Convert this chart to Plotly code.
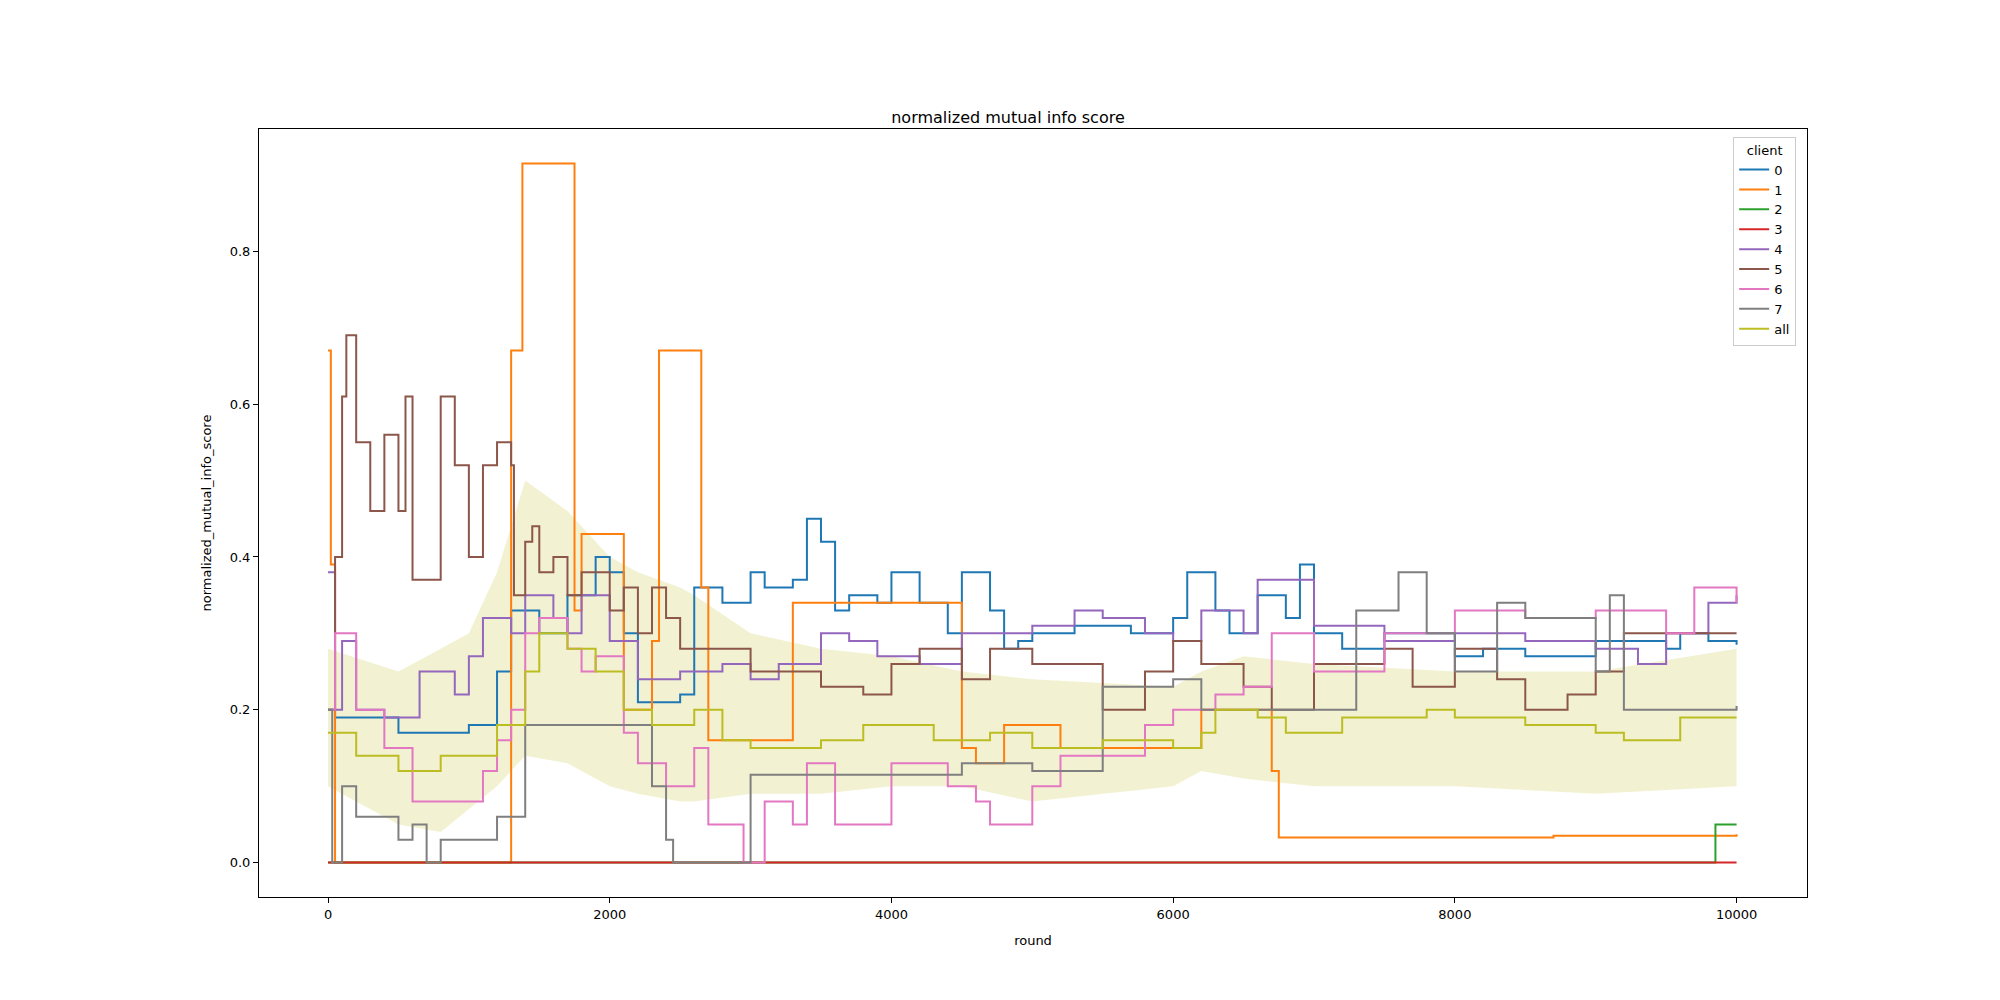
import plotly.graph_objects as go

# (round, value) breakpoints, drawn as steps
c0_x = [0, 50, 500, 1000, 1200, 1300, 1500, 1700, 1900, 2000, 2100, 2200, 2500, 2600, 2800, 3000, 3100, 3300, 3400, 3500, 3600, 3700, 3900, 4000, 4200, 4400, 4500, 4700, 4800, 4900, 5000, 5300, 5700, 6000, 6100, 6300, 6400, 6600, 6800, 6900, 7000, 7200, 7500, 8000, 8200, 8500, 9000, 9500, 9600, 9800, 10000]
c0_y = [0.2, 0.19, 0.17, 0.18, 0.25, 0.33, 0.3, 0.35, 0.4, 0.38, 0.3, 0.21, 0.22, 0.36, 0.34, 0.38, 0.36, 0.37, 0.45, 0.42, 0.33, 0.35, 0.34, 0.38, 0.34, 0.3, 0.38, 0.33, 0.28, 0.29, 0.3, 0.31, 0.3, 0.32, 0.38, 0.33, 0.3, 0.35, 0.32, 0.39, 0.3, 0.28, 0.3, 0.27, 0.28, 0.27, 0.29, 0.28, 0.3, 0.29, 0.285]

c1_x = [0, 20, 50, 1300, 1380, 1700, 1750, 1800, 2100, 2300, 2350, 2650, 2700, 3000, 3300, 3700, 4300, 4400, 4500, 4600, 4800, 5200, 6000, 6200, 6700, 6750, 8700, 10000]
c1_y = [0.67, 0.39, 0.0, 0.67, 0.915, 0.915, 0.33, 0.43, 0.2, 0.29, 0.67, 0.36, 0.16, 0.16, 0.34, 0.34, 0.34, 0.34, 0.15, 0.13, 0.18, 0.15, 0.15, 0.2, 0.12, 0.033, 0.035, 0.037]

c2_x = [0, 9850, 10000]
c2_y = [0.0, 0.05, 0.05]

c3_x = [0, 10000]
c3_y = [0.0, 0.0]

c4_x = [0, 50, 100, 200, 400, 650, 900, 1000, 1100, 1300, 1400, 1600, 1700, 1800, 2000, 2200, 2500, 2800, 3000, 3200, 3500, 3700, 3900, 4200, 4500, 5000, 5300, 5500, 5800, 6000, 6200, 6500, 6600, 7000, 7500, 8000, 8500, 9000, 9300, 9500, 9800, 10000]
c4_y = [0.38, 0.2, 0.29, 0.2, 0.19, 0.25, 0.22, 0.27, 0.32, 0.3, 0.35, 0.32, 0.3, 0.35, 0.29, 0.24, 0.25, 0.26, 0.24, 0.26, 0.3, 0.29, 0.27, 0.26, 0.3, 0.31, 0.33, 0.32, 0.3, 0.29, 0.33, 0.3, 0.37, 0.31, 0.29, 0.3, 0.29, 0.28, 0.26, 0.3, 0.34, 0.35]

c5_x = [0, 50, 100, 130, 200, 300, 400, 500, 550, 600, 800, 900, 1000, 1100, 1200, 1300, 1320, 1400, 1450, 1500, 1600, 1700, 1800, 2000, 2100, 2200, 2300, 2400, 2500, 3000, 3500, 3800, 4000, 4200, 4500, 4700, 5000, 5500, 5800, 6000, 6200, 6500, 6700, 7000, 7500, 7700, 8000, 8300, 8500, 8800, 9000, 9200, 10000]
c5_y = [0.2, 0.4, 0.61, 0.69, 0.55, 0.46, 0.56, 0.46, 0.61, 0.37, 0.61, 0.52, 0.4, 0.52, 0.55, 0.52, 0.35, 0.42, 0.44, 0.38, 0.4, 0.35, 0.38, 0.33, 0.36, 0.3, 0.36, 0.32, 0.28, 0.25, 0.23, 0.22, 0.26, 0.28, 0.24, 0.28, 0.26, 0.2, 0.25, 0.29, 0.26, 0.23, 0.2, 0.26, 0.28, 0.23, 0.28, 0.24, 0.2, 0.22, 0.25, 0.3, 0.3]

c6_x = [0, 50, 200, 400, 600, 900, 1100, 1200, 1300, 1400, 1500, 1700, 1800, 1900, 2100, 2200, 2400, 2600, 2700, 2950, 3100, 3300, 3400, 3600, 4000, 4400, 4600, 4700, 5000, 5200, 5800, 6000, 6300, 6500, 6700, 7000, 7500, 8000, 8500, 9000, 9500, 9700, 10000]
c6_y = [0.2, 0.3, 0.2, 0.15, 0.08, 0.08, 0.12, 0.16, 0.2, 0.3, 0.32, 0.28, 0.25, 0.27, 0.17, 0.13, 0.1, 0.15, 0.05, 0.0, 0.08, 0.05, 0.13, 0.05, 0.13, 0.1, 0.08, 0.05, 0.1, 0.14, 0.18, 0.2, 0.22, 0.23, 0.3, 0.25, 0.3, 0.33, 0.32, 0.33, 0.3, 0.36, 0.34]

c7_x = [0, 30, 100, 200, 500, 600, 700, 800, 1100, 1200, 1400, 2100, 2300, 2400, 2450, 3000, 4000, 4500, 5000, 5500, 6000, 6200, 7000, 7300, 7600, 7800, 8000, 8300, 8500, 9000, 9100, 9200, 10000]
c7_y = [0.2, 0.0, 0.1, 0.06, 0.03, 0.05, 0.0, 0.03, 0.03, 0.06, 0.18, 0.18, 0.1, 0.03, 0.0, 0.115, 0.115, 0.13, 0.12, 0.23, 0.24, 0.2, 0.2, 0.33, 0.38, 0.3, 0.25, 0.34, 0.32, 0.25, 0.35, 0.2, 0.205]

all_x = [0, 200, 500, 800, 1200, 1400, 1500, 1700, 1900, 2100, 2300, 2600, 2800, 3000, 3500, 3800, 4300, 4700, 5000, 5500, 6000, 6200, 6300, 6600, 6800, 7200, 7800, 8000, 8500, 9000, 9200, 9600, 10000]
all_y = [0.17, 0.14, 0.12, 0.14, 0.18, 0.25, 0.3, 0.28, 0.25, 0.2, 0.18, 0.2, 0.16, 0.15, 0.16, 0.18, 0.16, 0.17, 0.15, 0.16, 0.15, 0.17, 0.2, 0.19, 0.17, 0.19, 0.2, 0.19, 0.18, 0.17, 0.16, 0.19, 0.19]

band_x = [0, 500, 800, 1000, 1200, 1400, 1700, 1800, 2000, 2200, 2500, 2600, 3000, 3500, 4000, 4500, 5000, 6000, 6200, 6500, 7000, 8000, 9000, 10000]
band_lo = [0.1, 0.05, 0.04, 0.07, 0.1, 0.14, 0.13, 0.12, 0.1, 0.09, 0.08, 0.08, 0.09, 0.09, 0.1, 0.1, 0.08, 0.1, 0.12, 0.11, 0.1, 0.1, 0.09, 0.1]
band_hi = [0.28, 0.25, 0.28, 0.3, 0.38, 0.5, 0.46, 0.44, 0.4, 0.38, 0.36, 0.35, 0.3, 0.28, 0.27, 0.25, 0.24, 0.23, 0.25, 0.27, 0.26, 0.25, 0.25, 0.28]

x_ticks = [0, 2000, 4000, 6000, 8000, 10000]
y_ticks = [0.0, 0.2, 0.4, 0.6, 0.8]

series = [
    ("0", c0_x, c0_y, "#1f77b4"),
    ("1", c1_x, c1_y, "#ff7f0e"),
    ("2", c2_x, c2_y, "#2ca02c"),
    ("3", c3_x, c3_y, "#d62728"),
    ("4", c4_x, c4_y, "#9467bd"),
    ("5", c5_x, c5_y, "#8c564b"),
    ("6", c6_x, c6_y, "#e377c2"),
    ("7", c7_x, c7_y, "#7f7f7f"),
]

fig = go.Figure()

# confidence band for "all"
fig.add_trace(go.Scatter(x=band_x, y=band_lo, mode="lines", line=dict(width=0),
                         showlegend=False, hoverinfo="skip"))
fig.add_trace(go.Scatter(x=band_x, y=band_hi, mode="lines", line=dict(width=0),
                         fill="tonexty", fillcolor="rgba(188,189,34,0.2)",
                         showlegend=False, hoverinfo="skip"))

for name, xs, ys, color in series:
    fig.add_trace(go.Scatter(x=xs, y=ys, mode="lines", name=name,
                             line=dict(color=color, width=2, shape="hv")))
fig.add_trace(go.Scatter(x=all_x, y=all_y, mode="lines", name="all",
                         line=dict(color="#bcbd22", width=2, shape="hv")))

axis_common = dict(showgrid=False, zeroline=False, showline=True, mirror=True,
                   linecolor="black", linewidth=1, ticks="outside", ticklen=5,
                   tickcolor="black", tickfont=dict(size=13))
fig.update_layout(
    width=2000, height=1000,
    font=dict(family="DejaVu Sans", size=13, color="black"),
    title=dict(text="normalized mutual info score", x=0.5, xanchor="center",
               y=0.885, yanchor="bottom", font=dict(size=16)),
    paper_bgcolor="white", plot_bgcolor="white",
    margin=dict(l=251, r=201, t=121, b=111),
    xaxis=dict(range=[-490, 10500], tickvals=x_ticks,
               ticktext=[str(v) for v in x_ticks],
               title=dict(text="round", font=dict(size=13)), **axis_common),
    yaxis=dict(range=[-0.045, 0.96], tickvals=y_ticks,
               ticktext=[f"{v:.1f}" for v in y_ticks],
               title=dict(text="normalized_mutual_info_score", font=dict(size=13)),
               **axis_common),
    legend=dict(title=dict(text="client", side="top center", font=dict(size=13)),
                traceorder="normal", x=0.993, y=0.99,
                xanchor="right", yanchor="top", bordercolor="#cccccc",
                borderwidth=1, bgcolor="rgba(255,255,255,0.8)",
                font=dict(size=13), tracegroupgap=0),
)

fig.write_html("out.html")
